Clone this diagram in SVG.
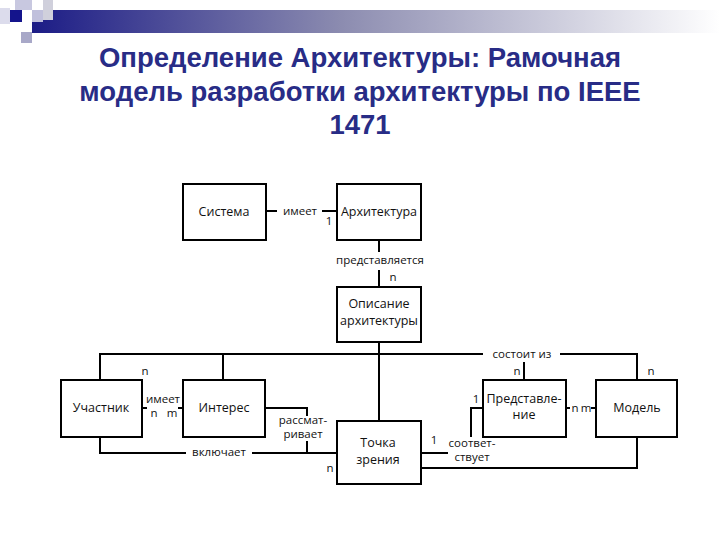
<svg xmlns="http://www.w3.org/2000/svg" width="720" height="540" viewBox="0 0 720 540">
<style>
.box{fill:#fff;stroke:#000;stroke-width:2}
.ln{fill:none;stroke:#000;stroke-width:2}
.t{font-family:"Open Sans","DejaVu Sans",sans-serif;font-size:12.5px;fill:#111;text-anchor:middle}
.s{font-family:"Open Sans","DejaVu Sans",sans-serif;font-size:11.5px;fill:#111;text-anchor:middle}
.title{font-family:"Liberation Sans",Arial,sans-serif;font-size:27.5px;font-weight:bold;fill:#282c86;text-anchor:middle}
</style>
<defs>
<linearGradient id="bar" x1="0" y1="0" x2="1" y2="0">
<stop offset="0" stop-color="#1c1c86"/>
<stop offset="0.45" stop-color="#8c8cb0"/>
<stop offset="1" stop-color="#ffffff"/>
</linearGradient>
</defs>
<rect width="720" height="540" fill="#fff"/>
<g id="decor">
<rect x="32" y="10" width="688" height="23" fill="url(#bar)"/>
<rect x="15" y="0" width="17" height="10" fill="#c8c8e0"/>
<rect x="43" y="0" width="10" height="20" fill="#d0d0dc"/>
<rect x="32" y="10" width="11" height="12" fill="#c0c0dc"/>
<rect x="0" y="8" width="10" height="16" fill="#dcdcec"/>
<rect x="21" y="32" width="11" height="11" fill="#a8a8c8"/>
<rect x="10" y="10" width="12" height="12" fill="#14148c"/>
</g>
<g id="title">
<text class="title" x="360" y="67">Определение Архитектуры: Рамочная</text>
<text class="title" x="360" y="101">модель разработки архитектуры по IEEE</text>
<text class="title" x="360" y="134">1471</text>
</g>
<g id="connectors">
<path class="ln" d="M266 211H277M322 211H337"/>
<path class="ln" d="M379 240V252M379 270V287"/>
<path class="ln" d="M379 342V421"/>
<path class="ln" d="M100 380V354H483M560 354H637V380"/>
<path class="ln" d="M223 354V380"/>
<path class="ln" d="M524 362V380"/>
<path class="ln" d="M142 408H147M178 408H183"/>
<path class="ln" d="M265 408H307V416M307 441V453"/>
<path class="ln" d="M100 437V453H186M252 453H337"/>
<path class="ln" d="M421 453H448"/>
<path class="ln" d="M483 408H471V437"/>
<path class="ln" d="M566 408H570M591 408H596"/>
<path class="ln" d="M637 437V468H421"/>
<text class="s" x="300" y="215">имеет</text>
<text class="s" x="329" y="225">1</text>
<text class="s" x="380" y="264">представляется</text>
<text class="s" x="393" y="281">n</text>
<text class="s" x="522" y="358">состоит из</text>
<text class="s" x="145" y="375">n</text>
<text class="s" x="517" y="375">n</text>
<text class="s" x="651" y="375">n</text>
<text class="s" x="163" y="403">имеет</text>
<text class="s" x="154" y="417">n</text>
<text class="s" x="172" y="417">m</text>
<text class="s" x="303" y="424">рассмат-</text>
<text class="s" x="303" y="438">ривает</text>
<text class="s" x="219" y="456">включает</text>
<text class="s" x="330" y="472">n</text>
<text class="s" x="476" y="403">1</text>
<text class="s" x="434" y="444">1</text>
<text class="s" x="472" y="447">соответ-</text>
<text class="s" x="472" y="461">ствует</text>
<text class="s" x="575" y="412">n</text>
<text class="s" x="586" y="412">m</text>
</g>
<g id="sistema">
<rect class="box" x="183" y="184" width="83" height="56"/>
<text class="t" x="224" y="216">Система</text>
</g>
<g id="arkhitektura">
<rect class="box" x="337" y="184" width="84" height="56"/>
<text class="t" x="379" y="216">Архитектура</text>
</g>
<g id="opisanie">
<rect class="box" x="337" y="287" width="84" height="55"/>
<text class="t" x="379" y="308">Описание</text>
<text class="t" x="379" y="325">архитектуры</text>
</g>
<g id="uchastnik">
<rect class="box" x="61" y="380" width="81" height="57"/>
<text class="t" x="101" y="412">Участник</text>
</g>
<g id="interes">
<rect class="box" x="183" y="380" width="82" height="57"/>
<text class="t" x="224" y="412">Интерес</text>
</g>
<g id="tochka">
<rect class="box" x="337" y="421" width="84" height="63"/>
<text class="t" x="378" y="447">Точка</text>
<text class="t" x="378" y="464">зрения</text>
</g>
<g id="predstavlenie">
<rect class="box" x="483" y="380" width="83" height="57"/>
<text class="t" x="524" y="403">Представле-</text>
<text class="t" x="524" y="419">ние</text>
</g>
<g id="model">
<rect class="box" x="596" y="380" width="81" height="57"/>
<text class="t" x="637" y="412">Модель</text>
</g>
</svg>
